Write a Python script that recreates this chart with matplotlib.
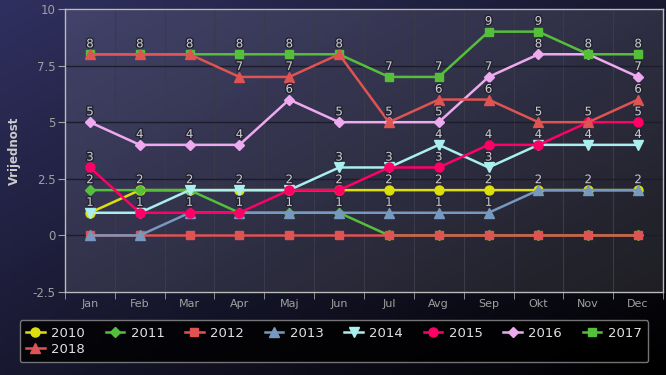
import numpy as np
import matplotlib
matplotlib.use("Agg")
import matplotlib.pyplot as plt
import matplotlib.patheffects as pe

months = ["Jan", "Feb", "Mar", "Apr", "Maj", "Jun", "Jul", "Avg", "Sep", "Okt", "Nov", "Dec"]
years = ["2010", "2011", "2012", "2013", "2014", "2015", "2016", "2017", "2018"]

y2010 = [1, 2, 2, 2, 2, 2, 2, 2, 2, 2, 2, 2]
y2011 = [2, 2, 2, 1, 1, 1, 0, 0, 0, 0, 0, 0]
y2012 = [0, 0, 0, 0, 0, 0, 0, 0, 0, 0, 0, 0]
y2013 = [0, 0, 1, 1, 1, 1, 1, 1, 1, 2, 2, 2]
y2014 = [1, 1, 2, 2, 2, 3, 3, 4, 3, 4, 4, 4]
y2015 = [3, 1, 1, 1, 2, 2, 3, 3, 4, 4, 5, 5]
y2016 = [5, 4, 4, 4, 6, 5, 5, 5, 7, 8, 8, 7]
y2017 = [8, 8, 8, 8, 8, 8, 7, 7, 9, 9, 8, 8]
y2018 = [8, 8, 8, 7, 7, 8, 5, 6, 6, 5, 5, 6]

series = [y2010, y2011, y2012, y2013, y2014, y2015, y2016, y2017, y2018]
colors = ["#DDDF0D", "#55BF3B", "#DF5353", "#7798BF", "#aaeeee",
          "#ff0066", "#eeaaee", "#55BF3B", "#DF5353"]
markers = ["o", "D", "s", "^", "v", "o", "D", "s", "^"]
msizes = [6.5, 5, 5.5, 6.5, 6.5, 6.5, 5, 5.5, 6.5]

fig = plt.figure(figsize=(6.66, 3.75), dpi=100)
fig.patch.set_facecolor("black")

# diagonal background gradient (navy -> black)
bg = fig.add_axes([0, 0, 1, 1], zorder=-5)
xx, yy = np.meshgrid(np.linspace(0, 1, 200), np.linspace(0, 1, 120))
t = (xx + yy) / 2
top = np.array([48, 48, 96]) / 255
img = top[None, None, :] * (1 - t[:, :, None])
bg.imshow(img, aspect="auto", extent=[0, 1, 0, 1], origin="upper")
bg.axis("off")

ax = fig.add_axes([65 / 666, 1 - 292 / 375, 598 / 666, 283 / 375])
ax.set_facecolor((1, 1, 1, 0.1))

x = np.arange(len(months))
handles = []
for i in range(len(series)):
    h, = ax.plot(x, series[i], color=colors[i], marker=markers[i], markersize=msizes[i],
                 linewidth=1.8, label=years[i], zorder=3 + i, clip_on=False)
    handles.append(h)

# data labels, one per distinct non-zero value each month
for j in range(len(months)):
    vals = sorted(set(s[j] for s in series if s[j] != 0))
    for v in vals:
        ax.annotate(str(v), (j, v), xytext=(0, 7.5), textcoords="offset points",
                    ha="center", va="center", fontsize=8.5, color="#cccccc", zorder=20,
                    path_effects=[pe.withStroke(linewidth=2, foreground="#222233")])

ax.set_xlim(-0.5, 11.5)
ax.set_ylim(-2.5, 10)
ax.set_yticks([-2.5, 0, 2.5, 5, 7.5, 10])
ax.set_yticklabels(["-2.5", "0", "2.5", "5", "7.5", "10"])
ax.set_xticks(x)
ax.set_xticklabels(months)
ax.set_xticks(np.arange(-0.5, 12, 1), minor=True)
ax.tick_params(axis="x", which="major", length=0, pad=5, labelsize=8, labelcolor="#A0A0A0")
ax.tick_params(axis="x", which="minor", length=5, color="#A0A0A0", direction="out")
ax.tick_params(axis="y", length=5, color="#A0A0A0", labelsize=8.5, labelcolor="#A0A0A0", pad=2)
ax.grid(True, axis="y", color="#1c1c2a", linewidth=1)
ax.grid(True, axis="x", which="minor", color="#3a3a4a", linewidth=0.8)
ax.set_axisbelow(True)
for sp in ax.spines.values():
    sp.set_color("#bbbbbb")
    sp.set_linewidth(1)

ax.set_ylabel("Vrijednost", color="#cccccc", fontsize=8.5, fontweight="bold", labelpad=8)

# legend fills by column, so put 2018 second to land under 2010
order = [0, 8, 1, 2, 3, 4, 5, 6, 7]
leg = fig.legend([handles[k] for k in order], [years[k] for k in order],
                 loc="lower left", bbox_to_anchor=(13 / 666, 6 / 375, 642 / 666, 48 / 375),
                 mode="expand", ncol=8, fontsize=9.5, frameon=True, fancybox=True,
                 handlelength=1.4, handletextpad=0.5, borderpad=0.5, labelspacing=0.25)
leg.get_frame().set_facecolor((0, 0, 0, 0))
leg.get_frame().set_edgecolor("#909090")
leg.get_frame().set_linewidth(1)
for txt in leg.get_texts():
    txt.set_color("#e0e0e0")

fig.savefig("out.png", dpi=100, facecolor=fig.get_facecolor())
